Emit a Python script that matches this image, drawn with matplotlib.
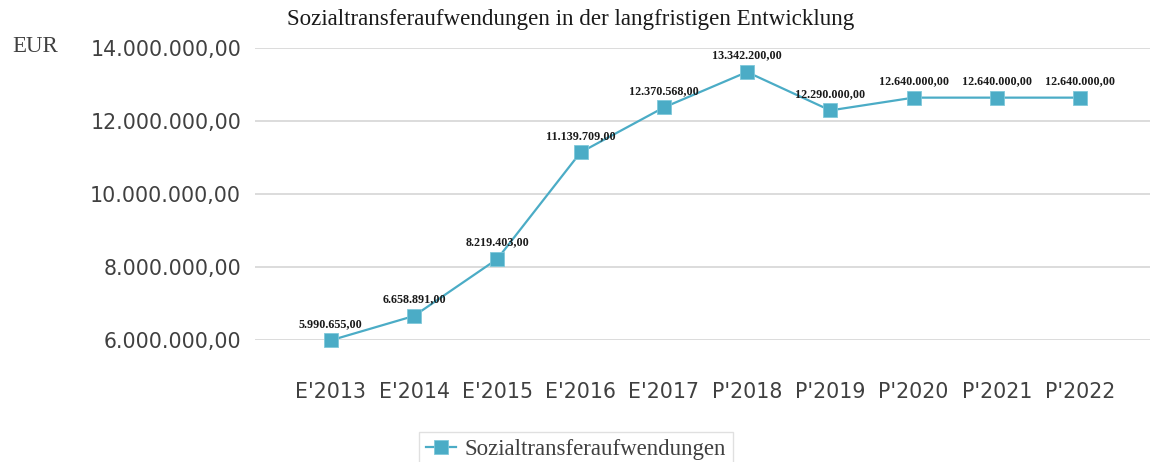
import matplotlib
matplotlib.use('Agg')
import matplotlib.pyplot as plt
from matplotlib.ticker import FuncFormatter

# chart data
years = ["E'2013", "E'2014", "E'2015", "E'2016", "E'2017",
         "P'2018", "P'2019", "P'2020", "P'2021", "P'2022"]
values = [5990655.00, 6658891.00, 8219403.00, 11139709.00, 12370568.00,
          13342200.00, 12290000.00, 12640000.00, 12640000.00, 12640000.00]
series_name = 'Sozialtransferaufwendungen'


def de_fmt(v):
    s = '{:,.2f}'.format(v)
    return s.replace(',', 'X').replace('.', ',').replace('X', '.')


teal = '#4BACC6'
serif = 'Liberation Serif'

fig = plt.figure(figsize=(11.5, 4.62), dpi=100)
ax = fig.add_axes([255/1150, 1-340/462, (1150-255)/1150, (340-48)/462])

x = list(range(len(years)))
line, = ax.plot(x, values, color=teal, lw=1.6, marker='s', markersize=9.5,
                markerfacecolor=teal, markeredgecolor='#7FC8DA', markeredgewidth=0.6,
                label=series_name, zorder=3, clip_on=False)

for xi, v in zip(x, values):
    ax.annotate(de_fmt(v), (xi, v), xytext=(0, 7.5), textcoords='offset points',
                ha='center', va='bottom', fontsize=8.7, fontweight='bold',
                family=serif, color='#1a1a1a')

ax.set_ylim(6000000, 14000000)
ax.set_yticks([6000000, 8000000, 10000000, 12000000, 14000000])
ax.yaxis.set_major_formatter(FuncFormatter(lambda v, p: de_fmt(v)))
ax.set_xlim(-0.91, 9.84)
ax.set_xticks(x)
ax.set_xticklabels(years)

ax.grid(axis='y', color='#D9D9D9', lw=1.3)
ax.set_axisbelow(True)
for s in ax.spines.values():
    s.set_visible(False)
ax.tick_params(axis='both', length=0, labelsize=14.8, colors='#404040')
ax.tick_params(axis='y', pad=10)
ax.tick_params(axis='x', pad=30)

fig.text(571/1150, 1-20/462, 'Sozialtransferaufwendungen in der langfristigen Entwicklung',
         ha='center', va='center', family=serif, fontsize=16.6, color='#1a1a1a')
fig.text(12/1150, 1-47/462, 'EUR', ha='left', va='center', family=serif,
         fontsize=16.5, color='#404040')

leg = fig.legend(handles=[line], loc='upper center', bbox_to_anchor=(576/1150, 1-421/462),
                 frameon=True, fancybox=False, edgecolor='#D9D9D9',
                 prop={'family': serif, 'size': 16.5}, handlelength=1.3,
                 borderpad=0.3, handletextpad=0.4)
for t in leg.get_texts():
    t.set_color('#404040')

fig.savefig('out.png', dpi=100)
